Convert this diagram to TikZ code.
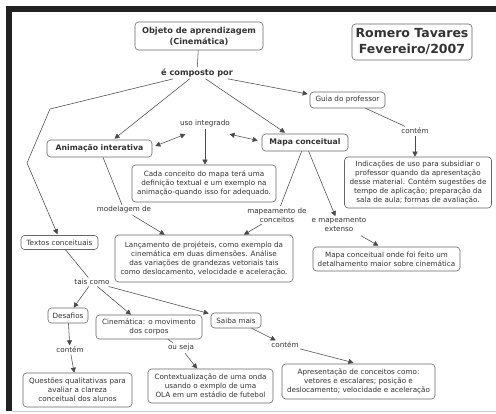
\documentclass[tikz,border=0pt]{standalone}
\usepackage{fontspec}
\setmainfont{DejaVu Sans}
\usetikzlibrary{arrows.meta,calc}
\definecolor{txt}{HTML}{333333}
\definecolor{boxc}{HTML}{666666}
\definecolor{linec}{HTML}{4A4A4A}
\definecolor{framec}{HTML}{222222}
\newcommand{\fs}{\fontsize{7.2}{9}\selectfont}
\newcommand{\fb}{\fontsize{7.7}{10.5}\selectfont\bfseries}
\newcommand{\fbb}{\fontsize{8.2}{11}\selectfont\bfseries}
\tikzset{
  box/.style={draw=boxc, rounded corners=3.5pt, line width=0.6pt, align=center, inner sep=0pt, font=\fs, text=txt},
  bbox/.style={box, font=\fb},
  lbl/.style={align=center, inner sep=1.5pt, font=\fs, text=txt},
  con/.style={draw=linec, line width=0.55pt},
  arr/.style={con, -{Triangle[length=5pt,width=5pt]}},
  darr/.style={con, {Triangle[length=5pt,width=5pt]}-{Triangle[length=5pt,width=5pt]}},
}
\begin{document}
\begin{tikzpicture}[x=1pt,y=-1pt]
\useasboundingbox (0,0) rectangle (496,414);
% frame
\fill[white] (0,0) rectangle (496,414);
\fill[framec] (6,6) rectangle (496,12.5);
\fill[framec] (6,6) rectangle (12,411);
\draw[gray!40, line width=0.6pt] (12,411) -- (496,411);
% boxes
\node[box, font=\fbb, minimum width=128pt, minimum height=28pt] (obj) at (199,36) {Objeto de aprendizagem\\(Cinemática)};
\node[box, font=\fontsize{12.5}{16}\selectfont\bfseries, minimum width=120pt, minimum height=36pt] (rom) at (412,42) {Romero Tavares\\Fevereiro/2007};
\node[box, minimum width=75pt, minimum height=16pt] (guia) at (347.5,100) {Guia do professor};
\node[bbox, minimum width=105pt, minimum height=17pt] (anim) at (99.5,148.5) {Animação interativa};
\node[bbox, minimum width=86pt, minimum height=17pt] (mapa) at (305,142.5) {Mapa conceitual};
\node[box, minimum width=144pt, minimum height=37pt] (cada) at (204,183.5) {Cada conceito do mapa terá uma\\definição textual e um exemplo na\\animação-quando isso for adequado.};
\node[box, minimum width=147pt, minimum height=51pt] (indic) at (418,182.5) {Indicações de uso para subsidiar o\\professor quando da apresentação\\desse material. Contém sugestões de\\tempo de aplicação; preparação da\\sala de aula; formas de avaliação.};
\node[box, minimum width=77pt, minimum height=14pt] (textos) at (59.5,242.5) {Textos conceituais};
\node[box, minimum width=178pt, minimum height=47pt] (lanc) at (204,258.5) {Lançamento de projéteis, como exemplo da\\cinemática em duas dimensões. Análise\\das variações de grandezas vetoriais tais\\como deslocamento, velocidade e aceleração.};
\node[box, minimum width=147pt, minimum height=24pt] (mapa2) at (386.5,259) {Mapa conceitual onde foi feito um\\detalhamento maior sobre cinemática};
\node[box, minimum width=40pt, minimum height=15pt] (desaf) at (68,315.5) {Desafios};
\node[box, minimum width=106pt, minimum height=24pt] (cinem) at (149,327) {Cinemática: o movimento\\dos corpos};
\node[box, minimum width=50pt, minimum height=15pt] (saiba) at (236,320.5) {Saiba mais};
\node[box, minimum width=109pt, minimum height=34pt] (quest) at (77.5,390) {Questões qualitativas para\\avaliar a clareza\\conceitual dos alunos};
\node[box, minimum width=125pt, minimum height=34pt] (cont) at (210.5,386) {Contextualização de uma onda\\usando o exmplo de uma\\OLA em um estádio de futebol};
\node[box, minimum width=153pt, minimum height=35pt] (apres) at (358.5,381.5) {Apresentação de conceitos como:\\vetores e escalares; posição e\\deslocamento; velocidade e aceleração};
% labels
\node[lbl, font=\fbb] (comp) at (197,73) {é composto por};
\node[lbl] (contA) at (415,131) {contém};
\node[lbl] (uso) at (205,124) {uso integrado};
\node[lbl] (model) at (124,210) {modelagem de};
\node[lbl] (mapeam) at (277,215) {mapeamento de\\conceitos};
\node[lbl] (emap) at (339,225) {e mapeamento\\extenso};
\node[lbl] (tais) at (92,282) {tais como};
\node[lbl] (contB) at (70,350) {contém};
\node[lbl] (ouseja) at (181,348) {ou seja};
\node[lbl] (contC) at (285,345) {contém};
% connectors
\draw[con] (obj) -- (comp);
\draw[arr] (comp) -- ($(anim.north)+(15,-1)$);
\draw[arr] (comp) -- ($(mapa.north)+(-20,-1)$);
\draw[arr] (comp) -- ($(guia.west)+(-2,-6)$);
\coordinate (b1) at (50,109);
\coordinate (b2) at (27,163);
\draw[arr] (comp) -- (b1) -- (b2) -- ($(textos.north)+(-2,-1)$);
\draw[con] (guia) -- (contA);
\draw[arr] (contA) -- (contA |- indic.north);
\draw[darr] ($(anim.east)+(3,-2.5)$) -- ($(uso.south west)+(7,5)$);
\draw[darr] ($(uso.south east)+(-2,5)$) -- ($(mapa.west)+(-4,-2)$);
\draw[arr] (uso) -- (uso |- cada.north);
\draw[con] (anim) -- (model);
\draw[arr] (model) -- (lanc);
\draw[con] (mapa) -- (mapeam);
\draw[arr] (mapeam) -- (lanc);
\draw[arr] (mapa) -- (emap);
\draw[arr] ($(emap.south)+(22,2)$) -- ($(mapa2.north)+(-8,-1)$);
\draw[con] (textos) -- (tais);
\draw[arr] (tais) -- (desaf);
\draw[arr] (tais) -- ($(cinem.north)+(-18,0)$);
\draw[arr] (tais) -- ($(saiba.west)+(-2,-7)$);
\draw[arr] (desaf) -- (contB);
\draw[arr] (contB) -- (quest);
\draw[con] (cinem) -- (ouseja);
\draw[arr] (ouseja) -- (cont);
\draw[arr] (saiba) -- (contC);
\draw[arr] (contC) -- ($(apres.north)+(-5,-1)$);
\end{tikzpicture}
\end{document}
